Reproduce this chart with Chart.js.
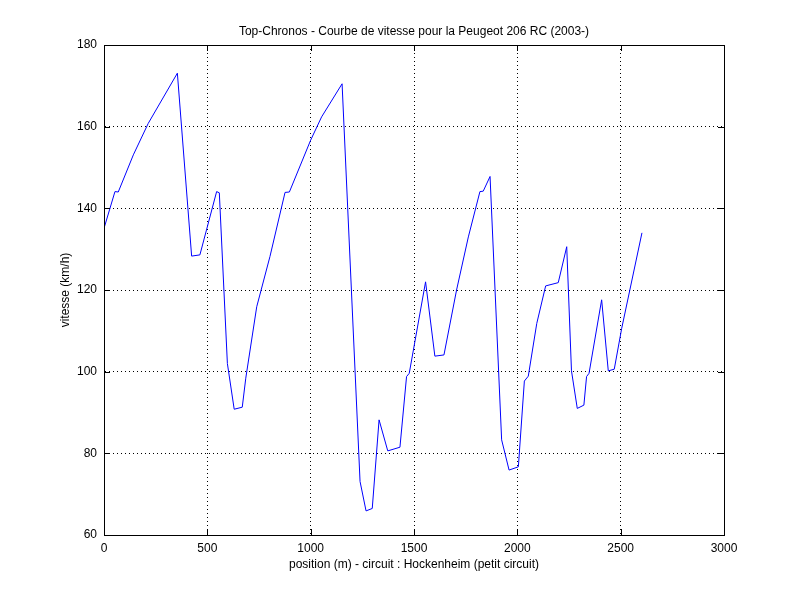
<!DOCTYPE html>
<html>
<head>
<meta charset="utf-8">
<script src="https://cdn.jsdelivr.net/npm/chart.js@4/dist/chart.umd.min.js"></script>
<style>
  html, body { margin: 0; padding: 0; background: #fff; }
  #wrap { width: 800px; height: 601px; }
</style>
</head>
<body>
<div id="wrap"><canvas id="speedChart" width="800" height="601"></canvas></div>
<script>
// position along the circuit (m) and speed (km/h)
const positions = [0, 53, 69, 142, 214, 355, 424, 464, 545, 558, 597, 630, 669, 686, 739, 803, 876, 897,
    1000, 1053, 1152,
    1239, 1268, 1298, 1331, 1373, 1432, 1464, 1477, 1556, 1601, 1645, 1706, 1763, 1819, 1835, 1868,
    1924, 1960, 2005, 2034, 2053, 2094, 2137, 2198, 2239, 2262, 2290, 2322, 2335, 2347,
    2408, 2440, 2469, 2505, 2603];
const speeds = [135.1, 144.1, 144, 153.1, 160.8, 173.1, 128.3, 128.6, 144.1, 143.8, 102, 90.8, 91.3, 98.4, 115.9, 128.2, 143.9, 144,
    156.7, 162.4, 170.5,
    73.1, 65.9, 66.5, 88.2, 80.6, 81.5, 98.8, 99.6, 122, 103.8, 104.1, 120, 133, 144.1, 144.2, 147.8,
    83.3, 75.9, 76.7, 97.7, 98.9, 111.8, 121, 121.8, 130.6, 100.2, 91, 91.8, 98.8, 99.6,
    117.6, 100.2, 100.6, 110.6, 134];
const xTicks = [0, 500, 1000, 1500, 2000, 2500, 3000];
const yTicks = [60, 80, 100, 120, 140, 160, 180];

const titleText = 'Top-Chronos - Courbe de vitesse pour la Peugeot 206 RC (2003-)';
const xLabel = 'position (m) - circuit : Hockenheim (petit circuit)';
const yLabel = 'vitesse (km/h)';

const points = positions.map((p, i) => ({ x: p, y: speeds[i] }));
const font = { family: 'Liberation Sans, Arial', size: 12 };

const frame = {
    id: 'frame',
    afterDraw(chart) {
        const { ctx, chartArea: a } = chart;
        ctx.save();
        ctx.setLineDash([]);
        ctx.strokeStyle = '#000';
        ctx.lineWidth = 1;
        ctx.strokeRect(a.left + 0.5, a.top + 0.5, a.right - a.left, a.bottom - a.top);
        // inward tick marks
        ctx.beginPath();
        chart.scales.x.ticks.forEach((t) => {
            const px = Math.round(chart.scales.x.getPixelForValue(t.value)) + 0.5;
            ctx.moveTo(px, a.bottom); ctx.lineTo(px, a.bottom - 6);
            ctx.moveTo(px, a.top); ctx.lineTo(px, a.top + 6);
        });
        chart.scales.y.ticks.forEach((t) => {
            const py = Math.round(chart.scales.y.getPixelForValue(t.value)) + 0.5;
            ctx.moveTo(a.left, py); ctx.lineTo(a.left + 6, py);
            ctx.moveTo(a.right, py); ctx.lineTo(a.right - 6, py);
        });
        ctx.stroke();
        ctx.fillStyle = '#000';
        ctx.font = '12px Liberation Sans, Arial';
        ctx.textAlign = 'center';
        ctx.textBaseline = 'middle';
        ctx.fillText(titleText, (a.left + a.right) / 2, 32);
        ctx.fillText(xLabel, (a.left + a.right) / 2, 565);
        ctx.translate(66, (a.top + a.bottom) / 2);
        ctx.rotate(-Math.PI / 2);
        ctx.fillText(yLabel, 0, 0);
        ctx.restore();
    }
};

new Chart(document.getElementById('speedChart'), {
    type: 'scatter',
    data: {
        datasets: [{
            data: points,
            showLine: true,
            borderColor: '#0000ff',
            borderWidth: 1,
            pointRadius: 0,
            tension: 0
        }]
    },
    options: {
        responsive: false,
        animation: false,
        layout: { padding: { left: 0, top: 45, right: 76, bottom: 0 } },
        plugins: { legend: { display: false }, tooltip: { enabled: false } },
        scales: {
            x: {
                type: 'linear', min: 0, max: 3000,
                afterBuildTicks: (s) => { s.ticks = xTicks.map((v) => ({ value: v })); },
                afterFit: (s) => { s.height = 66; },
                grid: { color: '#000', drawTicks: false },
                border: { display: true, color: '#000', dash: [1, 3] },
                ticks: { color: '#000', font: font, padding: 6, maxRotation: 0, callback: (v) => String(v) }
            },
            y: {
                min: 60, max: 180,
                afterBuildTicks: (s) => { s.ticks = yTicks.map((v) => ({ value: v })); },
                afterFit: (s) => { s.width = 104; },
                grid: { color: '#000', drawTicks: false },
                border: { display: true, color: '#000', dash: [1, 3] },
                ticks: { color: '#000', font: font, padding: 7, callback: (v) => String(v) }
            }
        }
    },
    plugins: [frame]
});
</script>
</body>
</html>
